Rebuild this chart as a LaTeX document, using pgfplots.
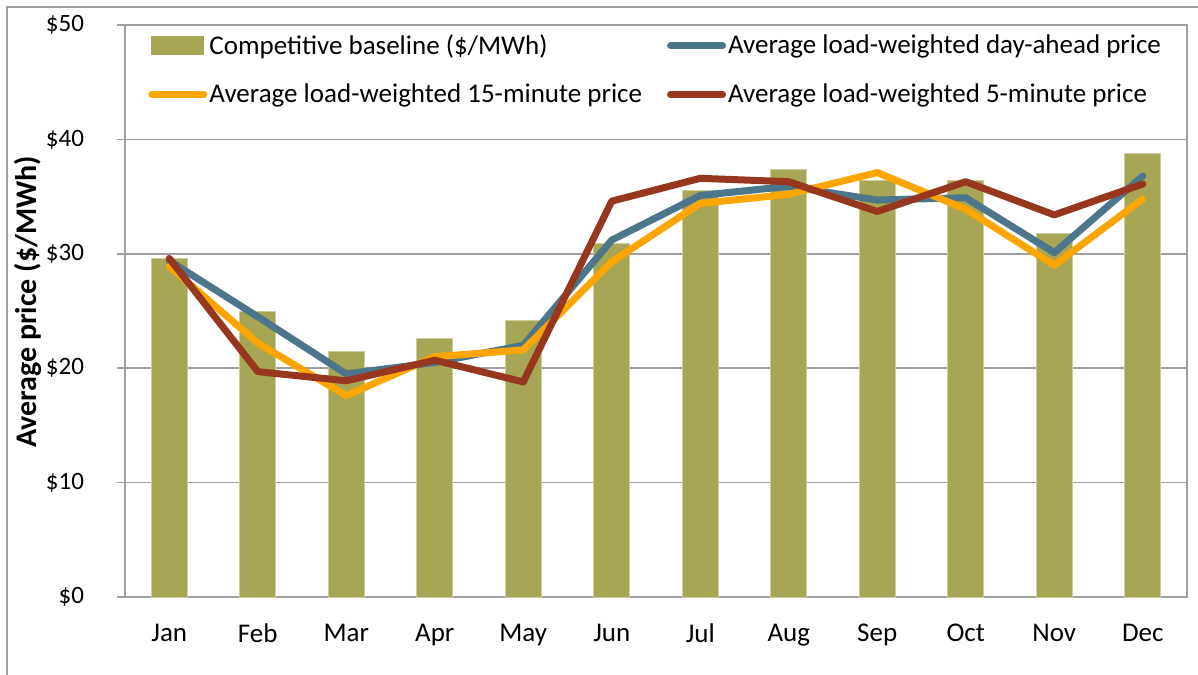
\documentclass[border=0pt]{standalone}
\usepackage{pgfplots}
\pgfplotsset{compat=1.18}
\usepackage{fontspec}
\setmainfont{Carlito}
\definecolor{barc}{RGB}{166,166,84}
\definecolor{baredge}{RGB}{205,205,160}
\definecolor{dablue}{RGB}{76,118,140}
\definecolor{fmorange}{RGB}{255,165,0}
\definecolor{fivered}{RGB}{150,55,30}
\definecolor{gridc}{RGB}{160,160,160}
\begin{document}
\begin{tikzpicture}
\useasboundingbox (0,0) rectangle (599pt,337pt);
\draw[gridc, line width=0.9pt] (3.5pt,-5pt) -- (3.5pt,333.5pt) -- (610pt,333.5pt);
\begin{axis}[
  at={(62.5pt,38.5pt)}, anchor=south west,
  scale only axis, width=531pt, height=286pt,
  xmin=-0.5, xmax=11.5, ymin=0, ymax=50,
  ytick={0,10,...,50},
  xtick={0,...,11},
  xticklabels={Jan,Feb,Mar,Apr,May,Jun,Jul,Aug,Sep,Oct,Nov,Dec},
  xtick style={draw=none},
  extra x ticks={-0.5,0.5,...,11.5},
  extra x tick labels={},
  extra x tick style={major tick length=4pt, tick style={gridc, line width=0.75pt}},
  tick align=outside,
  tick pos=left,
  major tick length=4pt,
  ytick style={gridc, line width=0.75pt},
  ymajorgrids,
  grid style={gridc, line width=0.75pt},
  axis line style={gridc, line width=0.75pt},
  yticklabel={\$\pgfmathprintnumber{\tick}},
  /pgf/number format/assume math mode=true,
  tick label style={font=\fontsize{13.5}{16}\selectfont, black},
  yticklabel style={xshift=-13pt, font=\fontsize{12.5}{15}\selectfont},
  xticklabel style={yshift=-6pt},
  ylabel={\textbf{Average price (\$/MWh)}},
  ylabel style={at={(axis description cs:-0.0915,0.516)}, anchor=center, font=\fontsize{15}{18}\selectfont},
  legend columns=2,
  legend cell align=left,
  legend style={at={(axis description cs:0,1)}, anchor=north west, xshift=11.5pt, yshift=-2.5pt,
    draw=none, fill=none, inner sep=0pt, font=\fontsize{13.5}{16}\selectfont,
    row sep=9.2pt,
    /tikz/every even column/.append style={column sep=11.5pt},
    nodes={inner xsep=1pt}},
]
\addplot[ybar, bar width=18pt, fill=barc, draw=baredge, line width=0.5pt,
  legend image code/.code={\fill[barc] (0pt,-4.5pt) rectangle (26pt,4.5pt);}]
  coordinates {(0,29.6) (1,25.0) (2,21.5) (3,22.6) (4,24.2) (5,30.9) (6,35.5) (7,37.4) (8,36.4) (9,36.4) (10,31.8) (11,38.8)};
\addlegendentry{Competitive baseline (\$/MWh)}
\addplot[dablue, line width=3.5pt, line join=round, line cap=round,
  legend image code/.code={\draw[dablue, line width=3.5pt, line cap=round] (0pt,0pt) -- (26pt,0pt);}]
  coordinates {(0,29.4) (1,24.5) (2,19.5) (3,20.5) (4,22.0) (5,31.2) (6,35.1) (7,35.9) (8,34.7) (9,34.9) (10,30.1) (11,36.8)};
\addlegendentry{Average load-weighted day-ahead price}
\addplot[fmorange, line width=3.5pt, line join=round, line cap=round,
  legend image code/.code={\draw[fmorange, line width=3.5pt, line cap=round] (0pt,0pt) -- (26pt,0pt);}]
  coordinates {(0,28.9) (1,22.2) (2,17.6) (3,21.0) (4,21.6) (5,29.3) (6,34.4) (7,35.2) (8,37.1) (9,33.9) (10,29.0) (11,34.8)};
\addlegendentry{Average load-weighted 15-minute price}
\addplot[fivered, line width=3.5pt, line join=round, line cap=round,
  legend image code/.code={\draw[fivered, line width=3.5pt, line cap=round] (0pt,0pt) -- (26pt,0pt);}]
  coordinates {(0,29.6) (1,19.7) (2,18.9) (3,20.7) (4,18.8) (5,34.6) (6,36.6) (7,36.3) (8,33.7) (9,36.3) (10,33.4) (11,36.1)};
\addlegendentry{Average load-weighted 5-minute price}
\end{axis}
\end{tikzpicture}
\end{document}
